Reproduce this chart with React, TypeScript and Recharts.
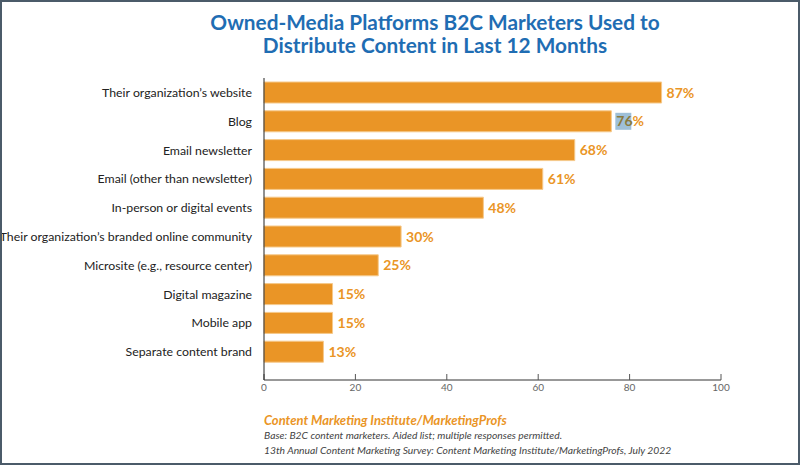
import { BarChart, Bar, XAxis, YAxis, LabelList } from "recharts";

const platforms = [
  "Their organization’s website",
  "Blog",
  "Email newsletter",
  "Email (other than newsletter)",
  "In-person or digital events",
  "Their organization’s branded online community",
  "Microsite (e.g., resource center)",
  "Digital magazine",
  "Mobile app",
  "Separate content brand",
];
const shares = [87, 76, 68, 61, 48, 30, 25, 15, 15, 13];
const xTicks = [0, 20, 40, 60, 80, 100];

const data = platforms.map((name, i) => ({ name, value: shares[i] }));

const ORANGE = "#EA9526";
const FONT = "Lato, 'Noto Sans', sans-serif";

const CategoryTick = (props: any) => {
  const { x, y, payload } = props;
  return (
    <text
      x={x}
      y={y}
      dy={4.5}
      textAnchor="end"
      fill="#222"
      fontSize={12.3}
      fontFamily={FONT}
    >
      {payload.value}
    </text>
  );
};

const ValueLabel = (props: any) => {
  const { x, y, width, height, value, index } = props;
  const tx = x + width + 5;
  const ty = y + height / 2 + 5;
  return (
    <g>
      {index === 1 && (
        <rect x={tx - 1} y={y + 2} width={16} height={height - 4} fill="#9fc0d8" />
      )}
      <text
        x={tx}
        y={ty}
        fill={index === 1 ? "#8b7a3c" : ORANGE}
        fontSize={14}
        fontWeight={700}
        fontFamily={FONT}
      >
        {value}
        {index === 1 ? <tspan fill={ORANGE}>%</tspan> : "%"}
      </text>
    </g>
  );
};

export default function App() {
  return (
    <div
      style={{
        position: "fixed",
        left: 0,
        top: 0,
        width: 800,
        height: 465,
        background: "#fff",
        fontFamily: FONT,
      }}
    >
      <BarChart
        width={800}
        height={465}
        data={data}
        layout="vertical"
        margin={{ top: 78, right: 79, left: 0, bottom: 55 }}
        barSize={21}
      >
        <XAxis
          type="number"
          domain={[0, 100]}
          ticks={xTicks}
          height={30}
          axisLine={{ stroke: "#333", strokeWidth: 1 }}
          tickLine={{ stroke: "#555" }}
          tickSize={-6}
          tickMargin={10}
          tick={{ fill: "#666", fontSize: 10, fontFamily: FONT }}
        />
        <YAxis
          type="category"
          dataKey="name"
          width={264}
          padding={{ top: 0, bottom: 14 }}
          axisLine={{ stroke: "#222", strokeWidth: 1 }}
          tickLine={false}
          tickSize={0}
          tickMargin={12}
          interval={0}
          tick={<CategoryTick />}
        />
        <Bar
          dataKey="value"
          fill={ORANGE}
          stroke="#f6c98a"
          strokeWidth={1}
          isAnimationActive={false}
        >
          <LabelList dataKey="value" content={ValueLabel} />
        </Bar>
      </BarChart>

      <div
        style={{
          position: "absolute",
          left: 70,
          top: 10,
          width: 730,
          textAlign: "center",
          color: "#1f6db3",
          fontSize: 20.8,
          fontWeight: 700,
          lineHeight: "23px",
        }}
      >
        Owned-Media Platforms B2C Marketers Used to
        <br />
        Distribute Content in Last 12 Months
      </div>

      <div style={{ position: "absolute", left: 264, top: 412 }}>
        <div
          style={{
            color: ORANGE,
            fontSize: 13,
            fontWeight: 700,
            fontStyle: "italic",
            lineHeight: "16px",
          }}
        >
          Content Marketing Institute/MarketingProfs
        </div>
        <div style={{ color: "#444", fontSize: 10.3, fontStyle: "italic", lineHeight: "14.5px" }}>
          Base: B2C content marketers. Aided list; multiple responses permitted.
        </div>
        <div style={{ color: "#444", fontSize: 10.3, fontStyle: "italic", lineHeight: "14.5px" }}>
          13th Annual Content Marketing Survey: Content Marketing Institute/MarketingProfs, July 2022
        </div>
      </div>

      <div
        style={{
          position: "absolute",
          left: 0,
          top: 0,
          width: 800,
          height: 465,
          boxSizing: "border-box",
          border: "2px solid #4b5b69",
          pointerEvents: "none",
        }}
      />
    </div>
  );
}
